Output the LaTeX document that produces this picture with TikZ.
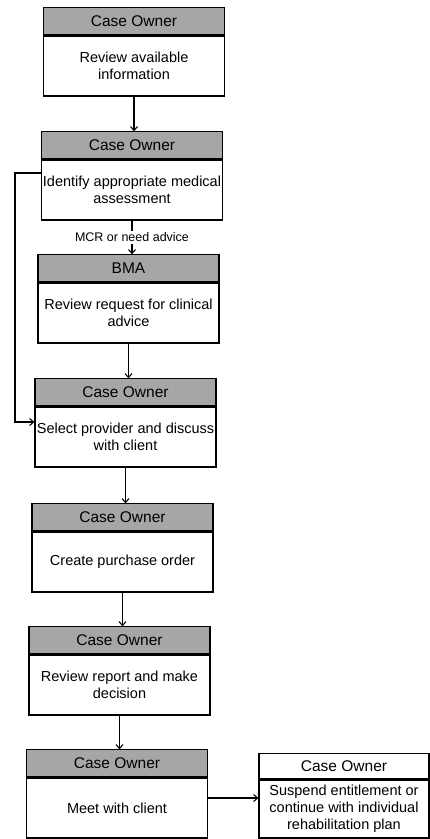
\documentclass[tikz,border=0pt]{standalone}
\usepackage{fontspec}
\setmainfont{Liberation Sans}
\usetikzlibrary{arrows.meta,positioning}

\begin{document}
\begin{tikzpicture}[
  x=1pt, y=-1pt,
  stepbox/.style={draw, line width=1.1pt, fill=white, minimum width=181pt, minimum height=60pt, inner sep=1pt, align=center, font=\fontsize{14.5}{17}\selectfont},
  headbox/.style={draw, line width=1.1pt, fill=black!35, minimum width=181pt, minimum height=27pt, inner sep=1pt, font=\fontsize{15.5}{16}\selectfont},
  endbox/.style={stepbox, minimum width=170pt, minimum height=58pt},
  endhead/.style={headbox, fill=white, minimum width=170pt, minimum height=25pt},
  arr/.style={-{Straight Barb[length=4pt,width=7pt]}, line width=1.1pt}
]
\useasboundingbox (0,0) rectangle (430,839);

% Stage 1
\node[stepbox] (b1) at (134,66) {Review available\\information};
\node[headbox, above=0pt of b1] (h1) {Case Owner};
% Stage 2
\node[stepbox] (b2) at (132,190) {Identify appropriate medical\\assessment};
\node[headbox, above=0pt of b2] (h2) {Case Owner};
% Stage 3
\node[stepbox] (b3) at (128.5,313) {Review request for clinical\\advice};
\node[headbox, above=0pt of b3] (h3) {BMA};
% Stage 4
\node[stepbox] (b4) at (125.5,437) {Select provider and discuss\\with client};
\node[headbox, above=0pt of b4] (h4) {Case Owner};
% Stage 5
\node[stepbox] (b5) at (122.5,562) {Create purchase order};
\node[headbox, above=0pt of b5] (h5) {Case Owner};
% Stage 6
\node[stepbox] (b6) at (119.5,685) {Review report and make\\decision};
\node[headbox, above=0pt of b6] (h6) {Case Owner};
% Stage 7
\node[stepbox] (b7) at (117,808) {Meet with client};
\node[headbox, above=0pt of b7] (h7) {Case Owner};
% Outcome
\node[endbox] (rb) at (344,809) {Suspend entitlement or\\continue with individual\\rehabilitation plan};
\node[endhead, above=0pt of rb] (rh) {Case Owner};

% Arrows
\draw[arr] (b1.south) -- (b1.south |- h2.north);
\draw[arr] (b2.south) -- node[fill=white, inner sep=1.5pt, font=\fontsize{12.5}{14}\selectfont] {MCR or need advice} (b2.south |- h3.north);
\draw[arr] (b3.south) -- (b3.south |- h4.north);
\draw[arr] (b4.south) -- (b4.south |- h5.north);
\draw[arr] (b5.south) -- (b5.south |- h6.north);
\draw[arr] (b6.south) -- (b6.south |- h7.north);
\draw[arr] ([yshift=10pt]b7.east) -- ([yshift=10pt]b7.east -| rb.west);

% Loop back around BMA
\coordinate (fb1) at (15,173);
\coordinate (fb2) at (15,422);
\draw[arr] (b2.west |- fb1) -- (fb1) -- (fb2) -- (b4.west |- fb2);

\end{tikzpicture}
\end{document}
